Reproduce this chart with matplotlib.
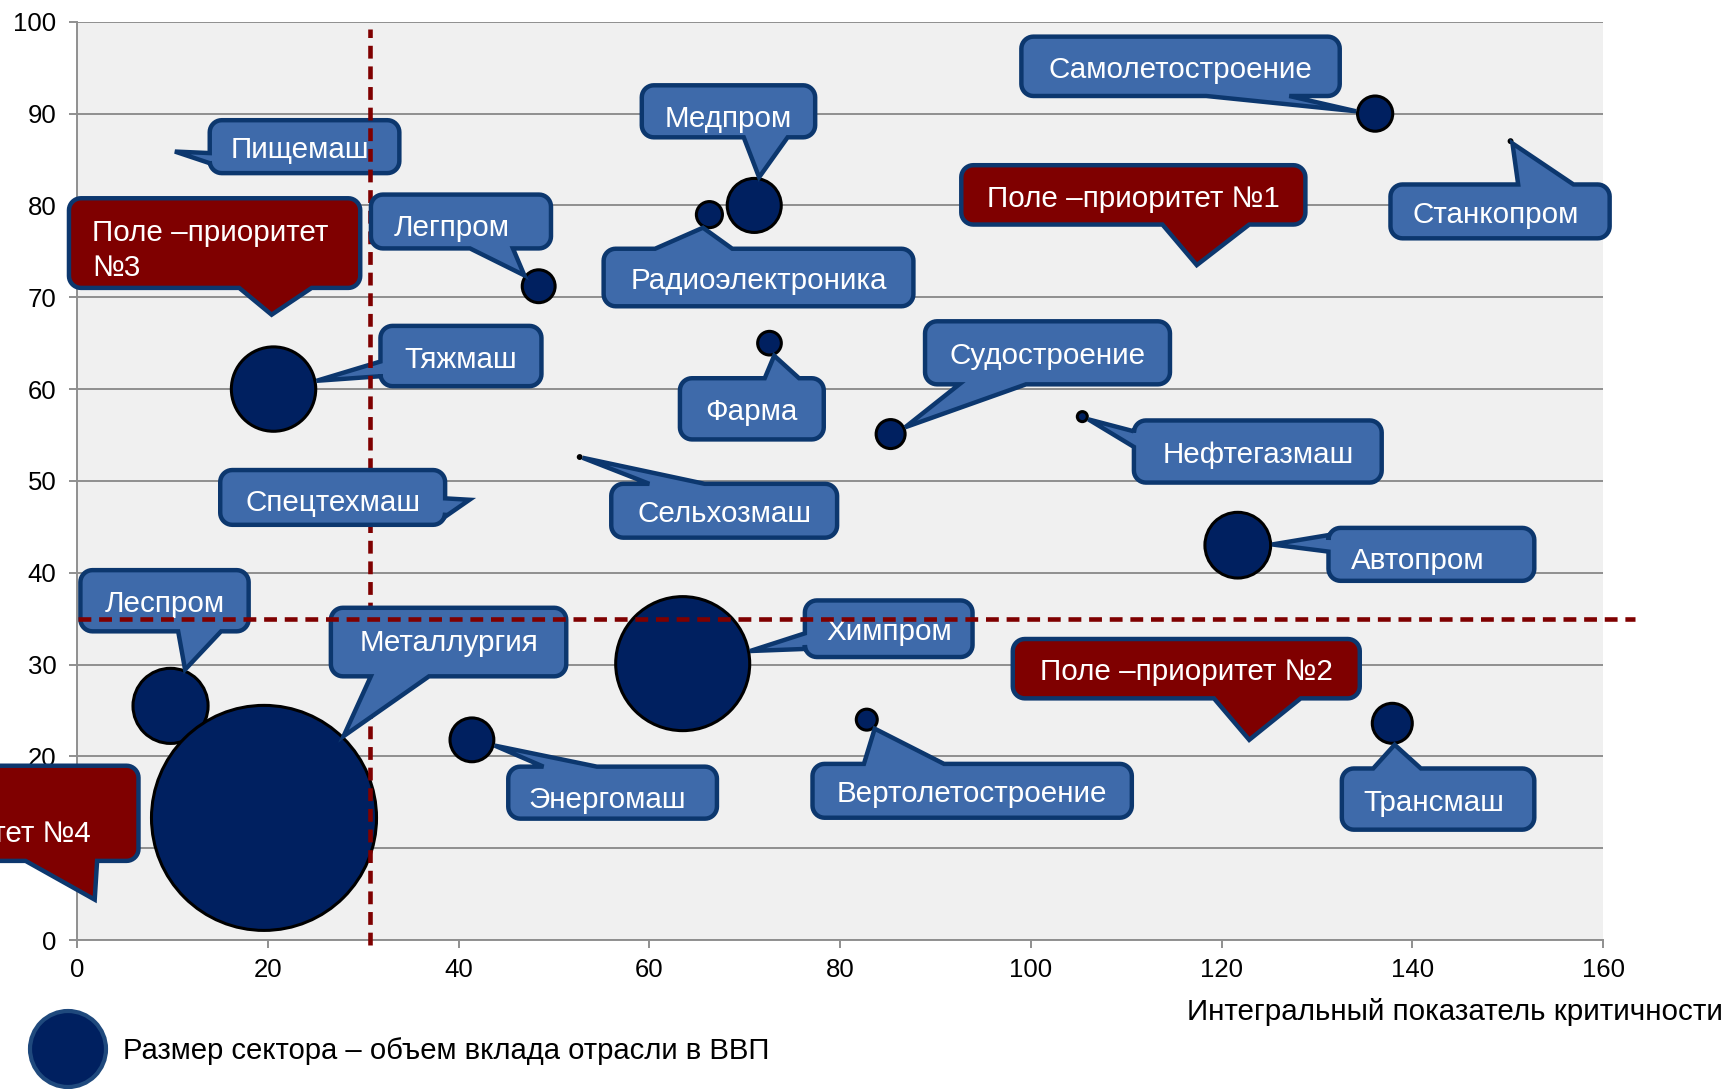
import numpy as np
import matplotlib.pyplot as plt
from matplotlib.patches import Polygon, Circle
from matplotlib.transforms import IdentityTransform

plt.rcParams['font.family'] = ['Liberation Sans', 'DejaVu Sans']

# --- Data ---
sectors = ['Самолетостроение', 'Станкопром', 'Медпром', 'Радиоэлектроника', 'Пищемаш',
           'Легпром', 'Тяжмаш', 'Фарма', 'Судостроение', 'Нефтегазмаш', 'Сельхозмаш',
           'Спецтехмаш', 'Автопром', 'Леспром', 'Металлургия', 'Химпром', 'Энергомаш',
           'Вертолетостроение', 'Трансмаш']
criticality = [136.1, 150.3, 71.0, 66.3, 10.1, 48.4, 20.6, 72.6, 85.3, 105.4, 52.7,
               41.3, 121.7, 9.8, 19.6, 63.5, 41.4, 82.8, 137.9]
priority_score = [90.0, 87.0, 80.0, 79.0, 85.9, 71.2, 60.0, 65.0, 55.1, 57.0, 52.6,
                  48.0, 43.0, 25.5, 13.3, 30.1, 21.8, 24.0, 23.6]
gdp_share = [0.31, 0.002, 0.73, 0.17, 0.0, 0.27, 1.78, 0.14, 0.21, 0.025, 0.002,
             0.0, 1.08, 1.41, 12.66, 4.49, 0.48, 0.11, 0.40]

x_threshold = 30.7
y_threshold = 35

# --- Callout layout: box (x0, x1, y0, y1), side of pointer, pointer base ---
callouts = {
    'Самолетостроение': ((98.8, 132.6, 91.7, 98.6), 'bottom', (118.4, 127.1)),
    'Станкопром': ((137.5, 160.9, 76.2, 82.5), 'top', (151.1, 156.9)),
    'Медпром': ((59.0, 77.6, 87.2, 93.3), 'bottom', (69.9, 74.5)),
    'Радиоэлектроника': ((55.0, 87.9, 68.8, 75.5), 'top', (60.6, 68.7)),
    'Пищемаш': ((13.7, 34.0, 83.3, 89.5), 'left', (84.6, 85.7)),
    'Легпром': ((30.6, 49.9, 75.1, 81.4), 'bottom', (41.2, 45.7)),
    'Тяжмаш': ((31.6, 48.9, 60.1, 67.1), 'left', (61.4, 63.0)),
    'Фарма': ((63.0, 78.5, 54.3, 61.4), 'top', (72.1, 75.7)),
    'Судостроение': ((88.7, 114.8, 60.3, 67.6), 'bottom', (92.5, 99.5)),
    'Нефтегазмаш': ((110.6, 137.0, 49.6, 56.8), 'left', (53.7, 55.4)),
    'Сельхозмаш': ((55.8, 79.9, 43.6, 49.9), 'top', (60.0, 65.8)),
    'Спецтехмаш': ((14.8, 38.8, 45.0, 51.4), 'right', (46.1, 48.1)),
    'Автопром': ((131.0, 153.0, 38.9, 45.1), 'left', (42.3, 44.1)),
    'Леспром': ((0.14, 18.2, 33.4, 40.5), 'bottom', (10.6, 15.1)),
    'Металлургия': ((26.4, 51.5, 28.5, 36.4), 'bottom', (30.8, 36.9)),
    'Химпром': ((76.1, 94.1, 30.6, 37.2), 'left', (31.7, 33.4)),
    'Энергомаш': ((45.0, 67.3, 13.0, 19.1), 'top', (48.9, 54.5)),
    'Вертолетостроение': ((76.9, 110.8, 13.1, 19.4), 'top', (82.5, 90.9)),
    'Трансмаш': ((132.4, 153.0, 11.8, 18.9), 'top', (135.9, 140.9)),
}
# small text nudges inside some boxes (dx, dy in data units)
text_nudge = {
    'Медпром': (0, -0.4), 'Легпром': (-1.0, -0.35), 'Автопром': (-1.4, -0.35),
    'Энергомаш': (-0.6, -0.35), 'Спецтехмаш': (0, -0.2), 'Пищемаш': (-0.5, 0),
    'Станкопром': (-0.5, 0), 'Трансмаш': (-0.4, 0), 'Металлургия': (0, 0.3),
}
below_vline = ['Пищемаш', 'Тяжмаш']

# priority fields: text, box, side, base, tip (data coords)
fields = [
    ('Поле –приоритет №1', (92.5, 129.0, 77.7, 84.6), 'bottom', (113.8, 122.9), (117.4, 73.5)),
    ('Поле –приоритет №2', (97.9, 134.7, 26.1, 33.0), 'bottom', (119.2, 128.3), (122.9, 21.8)),
    ('Поле –приоритет\n№3', (-1.06, 29.9, 70.8, 81.0), 'bottom', (17.0, 24.6), (20.4, 68.1)),
    ('Поле –приоритет №4', (-31.8, 6.65, 8.4, 19.2), 'bottom', (-5.4, 2.1), (1.85, 4.4)),
]

BUBBLE = '#002060'
BLUE = '#3E6AAA'
EDGE = '#0C376E'
RED = '#7F0000'
GRID = '#8F8F8F'
SCALE = 2073.6  # scatter area per unit of gdp share
BUBBLE_LW = 2.2
FS = 21.3

fig = plt.figure(figsize=(17.28, 10.89), dpi=100)
ax = fig.add_axes([0.0446, 0.1368, 0.8831, 0.8432])
ax.set_facecolor('#F0F0F0')
ax.set_xlim(0, 160)
ax.set_ylim(0, 100)
ax.set_xticks(range(0, 161, 20))
ax.set_yticks(range(0, 101, 10))
ax.grid(axis='y', color=GRID, linewidth=1.4)
ax.set_axisbelow(True)
for s in ['top', 'right']:
    ax.spines[s].set_visible(False)
for s in ['left', 'bottom']:
    ax.spines[s].set_color(GRID)
    ax.spines[s].set_linewidth(1.4)
ax.tick_params(axis='both', length=5.8, width=1.4, color=GRID, labelsize=18.5)
ax.tick_params(axis='y', pad=9)
ax.tick_params(axis='x', pad=7)
# the "10" label sits fully under the field-4 callout in the original
ax.get_yticklabels()[1].set_visible(False)

sizes = [SCALE * g for g in gdp_share]
ax.scatter(criticality, priority_score, s=sizes, color=BUBBLE, edgecolors='black',
           linewidths=BUBBLE_LW, zorder=3, clip_on=False)

ax.plot([x_threshold, x_threshold], [-0.5, 99.2], color=RED, lw=3.3,
        linestyle=(0, (2.8, 1.7)), zorder=4, clip_on=False)
ax.plot([0.14, 163.4], [y_threshold, y_threshold], color=RED, lw=3.3,
        linestyle=(0, (2.8, 1.7)), zorder=8, clip_on=False)


def to_px(x, y):
    return ax.transData.transform((x, y))


def callout_verts(box, side, base, tip, r=12, inset=2):
    (x0, y0) = to_px(box[0], box[2])
    (x1, y1) = to_px(box[1], box[3])
    x0 += inset; y0 += inset; x1 -= inset; y1 -= inset
    if side in ('bottom', 'top'):
        a, b = to_px(base[0], 0)[0], to_px(base[1], 0)[0]
    else:
        a, b = to_px(0, base[0])[1], to_px(0, base[1])[1]

    def arc(cx, cy, t0, t1):
        t = np.radians(np.linspace(t0, t1, 10))
        return list(zip(cx + r * np.cos(t), cy + r * np.sin(t)))

    v = [(x0 + r, y0)]
    if side == 'bottom':
        v += [(a, y0), tip, (b, y0)]
    v += arc(x1 - r, y0 + r, -90, 0)
    if side == 'right':
        v += [(x1, a), tip, (x1, b)]
    v += arc(x1 - r, y1 - r, 0, 90)
    if side == 'top':
        v += [(b, y1), tip, (a, y1)]
    v += arc(x0 + r, y1 - r, 90, 180)
    if side == 'left':
        v += [(x0, b), tip, (x0, a)]
    v += arc(x0 + r, y0 + r, 180, 270)
    return v


def draw_callout(text, box, side, base, tip, fill, z, ha='center', tx=None, ty=None,
                 nudge=(0, 0)):
    verts = callout_verts(box, side, base, tip)
    patch = Polygon(verts, closed=True, facecolor=fill, edgecolor=EDGE, lw=3.2,
                    joinstyle='miter', transform=IdentityTransform(), zorder=z,
                    clip_on=False)
    ax.add_artist(patch)
    if tx is None:
        tx = (box[0] + box[1]) / 2
    if ty is None:
        ty = (box[2] + box[3]) / 2 - 0.4
    ax.text(tx + nudge[0], ty + nudge[1], text, color='white', fontsize=FS, ha=ha,
            va='center', linespacing=1.3, zorder=z + 0.1, clip_on=False)


for name, x, y, g in zip(sectors, criticality, priority_score, gdp_share):
    box, side, base = callouts[name]
    c = to_px(x, y)
    r_px = np.sqrt(SCALE * g) / 2 * fig.dpi / 72 + BUBBLE_LW / 2 * fig.dpi / 72
    if side in ('bottom', 'top'):
        yb = box[2] if side == 'bottom' else box[3]
        m = to_px((base[0] + base[1]) / 2, yb)
    else:
        xb = box[0] if side == 'left' else box[1]
        m = to_px(xb, (base[0] + base[1]) / 2)
    d = m - c
    tip = tuple(c + d / np.hypot(*d) * r_px)
    z = 3.5 if name in below_vline else 5
    draw_callout(name, box, side, base, tip, BLUE, z, nudge=text_nudge.get(name, (0, 0)))

for text, box, side, base, tip in fields:
    t = tuple(to_px(*tip))
    if text.endswith('№3'):
        draw_callout(text, box, side, base, t, RED, 5, ha='left', tx=1.56, ty=75.1)
    elif text.endswith('№4'):
        draw_callout(text, box, side, base, t, RED, 5, ha='right', tx=1.4, ty=11.6)
    else:
        draw_callout(text, box, side, base, t, RED, 5)

fig.text(0.9968, 0.0711, 'Интегральный показатель критичности', ha='right', va='center',
         fontsize=21.3)
fig.add_artist(Circle((68, 40), 38, transform=IdentityTransform(), facecolor=BUBBLE,
                      edgecolor='#1F497D', lw=3, clip_on=False))
fig.text(123 / 1728, 0.0349, 'Размер сектора – объем вклада отрасли в ВВП', ha='left',
         va='center', fontsize=21.1)

fig.savefig('out.png', dpi=100)
